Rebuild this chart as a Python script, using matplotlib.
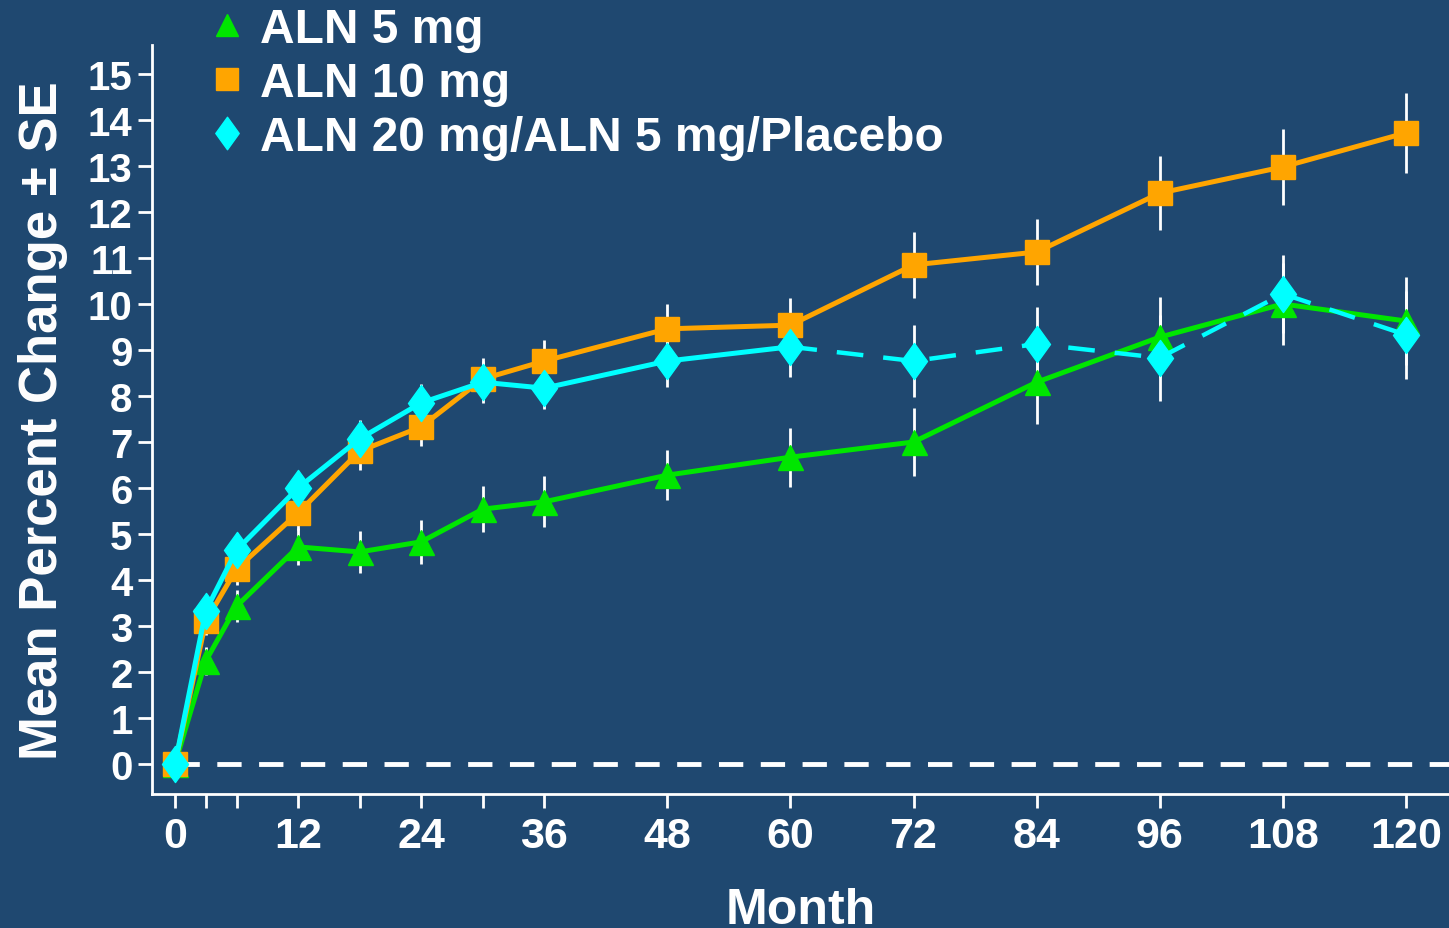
import matplotlib
matplotlib.use("Agg")
import matplotlib.pyplot as plt
from matplotlib.path import Path
import numpy as np

BG = "#1f4870"
GREEN = "#00e600"
ORANGE = "#ffa500"
CYAN = "#00ffff"

months = [0, 3, 6, 12, 18, 24, 30, 36, 48, 60, 72, 84, 96, 108, 120]

aln5 = [0, 2.24, 3.43, 4.72, 4.61, 4.83, 5.54, 5.70, 6.28, 6.67, 7.0, 8.3, 9.28, 10.0, 9.63]
aln5_se = [0, 0.3, 0.35, 0.4, 0.45, 0.48, 0.5, 0.55, 0.54, 0.64, 0.74, 0.9, 0.87, 0.9, 0.95]

aln10 = [0, 3.1, 4.24, 5.46, 6.8, 7.33, 8.37, 8.76, 9.46, 9.54, 10.85, 11.13, 12.41, 12.98, 13.72]
aln10_se = [0, 0.3, 0.35, 0.38, 0.4, 0.42, 0.45, 0.45, 0.54, 0.6, 0.72, 0.71, 0.8, 0.82, 0.87]

aln20 = [0, 3.33, 4.65, 6.0, 7.07, 7.85, 8.3, 8.17, 8.76, 9.07, 8.76, 9.13, 8.83, 10.22, 9.33]
aln20_se = [0, 0.3, 0.38, 0.37, 0.4, 0.42, 0.45, 0.45, 0.57, 0.65, 0.79, 0.8, 0.93, 0.85, 0.95]

x_ticks = [0, 3, 6, 12, 18, 24, 30, 36, 48, 60, 72, 84, 96, 108, 120]
x_labels = ["0", "", "", "12", "", "24", "", "36", "48", "60", "72", "84", "96", "108", "120"]
y_ticks = list(range(0, 16))

plt.rcParams["font.family"] = ["Liberation Sans", "DejaVu Sans"]
plt.rcParams["font.weight"] = "bold"

# diamond a bit slimmer than a rotated square
diamond = Path([(0, 1), (0.72, 0), (0, -1), (-0.72, 0), (0, 1)],
               [Path.MOVETO, Path.LINETO, Path.LINETO, Path.LINETO, Path.CLOSEPOLY])

fig = plt.figure(figsize=(14.49, 9.29), dpi=100, facecolor=BG)
ax = fig.add_axes([152 / 1449, 134 / 929, 1297 / 1449, 749 / 929], facecolor=BG)

# zero reference line
ax.plot([0, 126], [0, 0], color="white", lw=3.5, ls=(0, (5, 3.6)), zorder=1)

# error bars
for y, se in [(aln5, aln5_se), (aln10, aln10_se), (aln20, aln20_se)]:
    ax.errorbar(months, y, yerr=se, fmt="none", ecolor="white", elinewidth=2, capsize=0, zorder=2)

ax.plot(months, aln5, color=GREEN, lw=3.6, marker="^", ms=18, mec=GREEN, zorder=3, label="ALN 5 mg")
ax.plot(months, aln10, color=ORANGE, lw=3.6, marker="s", ms=17, mec=ORANGE, zorder=4, label="ALN 10 mg")

# ALN 20 solid to month 60, dashed afterwards
i60 = months.index(60)
ax.plot(months[:i60 + 1], aln20[:i60 + 1], color=CYAN, lw=3.6, zorder=5)
ax.plot(months[i60:], aln20[i60:], color=CYAN, lw=3.2, ls=(0, (6, 4.5)), zorder=5)
ax.plot(months, aln20, ls="none", marker=diamond, ms=26, color=CYAN, zorder=6,
        label="ALN 20 mg/ALN 5 mg/Placebo")

ax.set_xlim(-2.24, 124.2)
ax.set_ylim(-0.652, 15.63)
ax.set_xticks(x_ticks)
ax.set_xticklabels(x_labels)
ax.set_yticks(y_ticks)

for s in ["top", "right"]:
    ax.spines[s].set_visible(False)
for s in ["left", "bottom"]:
    ax.spines[s].set_color("white")
    ax.spines[s].set_linewidth(2)

ax.tick_params(axis="both", colors="white", direction="out", length=10, width=2)
ax.tick_params(axis="x", labelsize=31, pad=6)
ax.tick_params(axis="y", labelsize=29, pad=4)
for lab in ax.get_xticklabels() + ax.get_yticklabels():
    lab.set_fontweight("bold")

ax.set_xlabel("Month", color="white", fontsize=36, fontweight="bold", labelpad=22)
ax.set_ylabel("Mean Percent Change \u00b1 SE", color="white", fontsize=38, fontweight="bold", labelpad=14)

leg = fig.legend(loc="upper left", bbox_to_anchor=(169 / 1449, 1.038), frameon=False,
                 handlelength=0.6, handletextpad=0.4, labelspacing=0.19, markerscale=0.9,
                 prop={"size": 34.5, "weight": "bold"}, labelcolor="white")
for h in leg.legend_handles:
    h.set_linestyle("none")

fig.savefig("out.png", dpi=100, facecolor=BG)
